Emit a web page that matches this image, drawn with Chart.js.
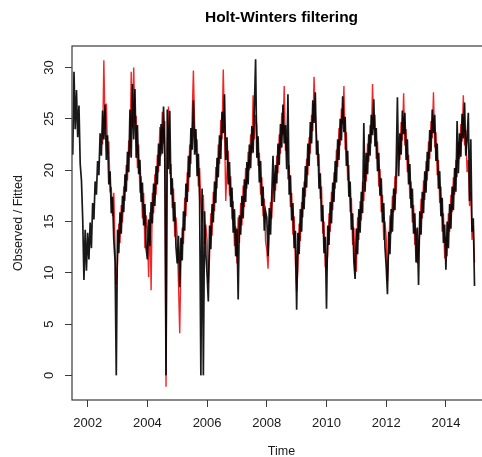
<!DOCTYPE html>
<html>
<head>
<meta charset="utf-8">
<script src="https://cdn.jsdelivr.net/npm/chart.js@4.4.1/dist/chart.umd.min.js"></script>
<style>
    html, body { margin: 0; padding: 0; background: #fff; overflow: hidden; }
    #wrap { width: 492px; height: 457px; }
</style>
</head>
<body>
<div id="wrap"><canvas id="hw_chart" width="492" height="457"></canvas></div>
<script type="text/javascript">
    // two readings per month (frequency 24), time as decimal year like an R ts
    var FREQ = 24;

    // observed (black) — 2001 starts in July
    var obs2001 = [21.5, 29.6, 24.0, 27.8, 23.2, 26.3, 20.6, 19.0, 15.3, 9.3, 14.2, 10.2];
    var obs2002 = [13.9, 11.3, 14.9, 12.4, 16.8, 15.2, 18.9, 17.6, 20.9, 19.5, 23.6, 21.4, 25.8, 23.0, 26.4, 21.0, 23.4, 18.6, 19.9, 15.8, 17.4, 13.2, 11.2, 0.0];
    var obs2003 = [14.2, 11.9, 15.9, 13.8, 17.5, 15.9, 19.6, 17.9, 21.8, 19.8, 25.9, 21.2, 28.4, 23.0, 27.9, 21.2, 24.4, 19.6, 21.0, 16.9, 18.8, 14.6, 16.7, 12.4];
    var obs2004 = [11.3, 15.2, 12.6, 16.9, 14.8, 18.7, 16.5, 20.4, 18.6, 22.6, 20.4, 24.5, 21.6, 26.2, 21.3, 0.0, 25.9, 20.1, 25.8, 17.6, 19.2, 15.0, 16.9, 12.5];
    var obs2005 = [10.9, 13.6, 8.6, 13.4, 11.2, 16.0, 14.1, 18.7, 16.9, 21.4, 19.3, 24.1, 22.0, 26.8, 21.5, 24.0, 19.4, 21.6, 17.0, 0.0, 18.2, 0.0, 16.0, 11.8];
    var obs2006 = [9.8, 7.2, 14.6, 12.3, 16.7, 14.9, 18.9, 16.8, 21.2, 19.3, 23.4, 21.1, 25.7, 23.6, 27.4, 21.0, 23.2, 18.6, 20.8, 16.4, 18.3, 13.9, 16.2, 11.6];
    var obs2007 = [14.3, 7.4, 15.6, 13.7, 17.5, 15.3, 19.1, 16.9, 20.8, 18.6, 22.5, 20.2, 24.3, 21.7, 26.0, 30.8, 21.2, 23.3, 18.8, 20.9, 16.5, 18.4, 14.1, 16.0];
    var obs2008 = [15.4, 11.6, 16.3, 13.7, 17.6, 21.4, 16.9, 20.5, 18.7, 22.6, 20.5, 24.5, 22.2, 26.4, 22.6, 24.4, 20.1, 27.4, 17.6, 19.5, 15.1, 16.8, 12.4, 14.1];
    var obs2009 = [6.4, 13.9, 11.8, 16.2, 14.0, 18.3, 16.2, 20.4, 18.3, 22.6, 20.4, 24.7, 22.6, 26.8, 24.6, 27.6, 21.5, 22.9, 18.2, 19.7, 15.0, 16.6, 11.9, 13.5];
    var obs2010 = [6.5, 14.6, 12.7, 16.9, 14.8, 18.8, 16.9, 20.9, 18.8, 23.0, 21.0, 25.0, 22.9, 27.2, 23.7, 25.2, 20.4, 21.9, 17.4, 18.9, 14.2, 15.8, 11.1, 9.4];
    var obs2011 = [14.3, 11.8, 16.2, 13.9, 17.9, 15.8, 24.6, 17.9, 21.7, 19.6, 23.5, 21.4, 25.4, 23.4, 26.9, 22.3, 24.1, 19.9, 21.7, 17.5, 19.2, 14.9, 16.8, 12.5];
    var obs2012 = [10.6, 7.9, 14.0, 11.8, 16.2, 14.0, 18.2, 16.1, 20.3, 27.1, 19.4, 23.6, 21.5, 25.8, 23.5, 25.6, 21.0, 23.0, 18.6, 20.6, 16.3, 18.2, 13.8, 15.8];
    var obs2013 = [11.0, 14.4, 8.8, 16.0, 13.7, 17.9, 15.8, 19.9, 17.8, 21.8, 19.9, 23.9, 21.8, 25.9, 23.6, 25.4, 20.9, 22.6, 18.2, 19.9, 15.5, 17.3, 12.9, 14.7];
    var obs2014 = [10.3, 15.0, 12.4, 16.7, 14.3, 18.4, 16.1, 20.2, 17.9, 24.8, 19.7, 23.6, 21.3, 25.5, 23.1, 26.6, 21.4, 23.0, 25.6, 17.0, 23.0, 14.0, 15.3, 8.7];

    // fitted (red) — starts one season later, July 2002
    var fit2002 = [22.5, 30.7, 24.0, 26.5, 21.5, 22.8, 18.0, 18.2, 15.5, 17.8, 12.6, 8.8];
    var fit2003 = [11.0, 14.8, 12.9, 16.6, 14.9, 18.4, 17.0, 20.5, 19.0, 22.9, 21.3, 29.6, 24.2, 30.0, 24.6, 25.3, 20.2, 22.5, 17.8, 19.4, 15.3, 17.8, 12.4, 15.6];
    var fit2004 = [14.2, 9.6, 15.9, 8.3, 17.8, 15.8, 19.6, 17.6, 21.5, 19.8, 24.2, 21.4, 25.7, 22.6, 24.8, -1.1, 22.0, 26.2, 19.6, 20.6, 16.3, 18.2, 13.5, 15.4];
    var fit2005 = [13.5, 9.0, 4.1, 11.3, 14.4, 12.8, 17.3, 15.5, 19.8, 17.9, 22.5, 20.6, 25.2, 29.7, 24.3, 21.8, 23.0, 18.4, 20.2, 16.8, 14.9, 17.6, 12.8, 14.7];
    var fit2006 = [13.2, 9.0, 11.6, 15.8, 13.6, 17.9, 16.0, 20.3, 18.2, 22.5, 20.6, 24.9, 23.0, 29.8, 24.4, 17.0, 20.0, 21.9, 17.5, 19.4, 15.2, 17.0, 12.6, 14.5];
    var fit2007 = [10.9, 15.4, 12.9, 16.8, 14.6, 18.5, 16.4, 20.2, 18.2, 21.8, 20.0, 23.5, 21.6, 27.3, 23.0, 25.4, 24.3, 20.4, 21.7, 17.6, 19.3, 15.5, 17.2, 13.1];
    var fit2008 = [12.2, 10.4, 14.2, 16.9, 15.3, 18.6, 19.3, 18.0, 21.4, 19.7, 23.5, 21.6, 25.6, 23.4, 28.2, 21.9, 23.2, 19.1, 20.5, 16.4, 17.8, 13.7, 15.5, 11.0];
    var fit2009 = [8.2, 10.3, 14.8, 13.1, 16.9, 15.4, 18.9, 17.4, 21.1, 19.5, 23.2, 21.6, 25.4, 23.8, 29.1, 25.3, 23.6, 20.4, 21.6, 17.2, 18.4, 13.8, 15.0, 10.6];
    var fit2010 = [10.4, 11.8, 15.8, 14.0, 17.9, 16.1, 19.8, 18.2, 22.0, 20.3, 24.1, 22.4, 26.0, 24.5, 28.2, 22.0, 23.7, 19.0, 20.5, 15.9, 17.3, 12.7, 14.4, 10.3];
    var fit2011 = [10.2, 15.4, 13.2, 17.0, 15.1, 18.9, 17.0, 20.6, 18.9, 22.6, 20.8, 24.4, 22.6, 28.4, 24.0, 25.4, 21.1, 22.8, 18.4, 20.1, 15.9, 17.6, 13.2, 15.0];
    var fit2012 = [13.4, 9.2, 12.0, 15.6, 13.8, 17.5, 15.9, 19.4, 17.7, 21.5, 22.3, 21.0, 24.7, 22.9, 27.5, 22.4, 24.0, 19.8, 21.5, 17.2, 18.9, 14.9, 16.6, 12.7];
    var fit2013 = [14.3, 10.9, 12.4, 13.9, 17.2, 15.3, 19.0, 17.1, 20.9, 19.0, 22.8, 21.1, 24.8, 23.1, 27.6, 22.2, 23.7, 19.5, 21.0, 16.8, 18.4, 14.0, 15.8, 11.4];
    var fit2014 = [13.5, 11.6, 15.8, 14.0, 17.6, 15.9, 19.3, 17.6, 21.0, 19.3, 22.7, 21.1, 24.5, 22.8, 27.3, 22.4, 23.9, 19.8, 21.0, 16.5, 17.9, 13.2, 14.6, 11.0];

    var xTicks = [2002, 2004, 2006, 2008, 2010, 2012, 2014];
    var yTicks = [0, 5, 10, 15, 20, 25, 30];

    function series(blocks) {
        // blocks: [year, first index within the year, values]
        var pts = [];
        blocks.forEach(function (b) {
            b[2].forEach(function (v, k) {
                pts.push({x: b[0] + (b[1] + k) / FREQ, y: v});
            });
        });
        return pts;
    }

    var observed = series([
        [2001, 12, obs2001], [2002, 0, obs2002], [2003, 0, obs2003], [2004, 0, obs2004],
        [2005, 0, obs2005], [2006, 0, obs2006], [2007, 0, obs2007], [2008, 0, obs2008],
        [2009, 0, obs2009], [2010, 0, obs2010], [2011, 0, obs2011], [2012, 0, obs2012],
        [2013, 0, obs2013], [2014, 0, obs2014]
    ]);
    var fitted = series([
        [2002, 12, fit2002], [2003, 0, fit2003], [2004, 0, fit2004], [2005, 0, fit2005],
        [2006, 0, fit2006], [2007, 0, fit2007], [2008, 0, fit2008], [2009, 0, fit2009],
        [2010, 0, fit2010], [2011, 0, fit2011], [2012, 0, fit2012], [2013, 0, fit2013],
        [2014, 0, fit2014]
    ]);

    var FONT = "'Liberation Sans', Arial, Helvetica, sans-serif";

    // R-like decorations: box, rotated y labels, axis titles
    var rStyle = {
        id: 'rStyle',
        afterDraw: function (chart) {
            var c = chart.ctx, a = chart.chartArea, y = chart.scales.y;
            c.save();
            c.strokeStyle = '#3a3a3a';
            c.lineWidth = 1.2;
            c.strokeRect(a.left, a.top, a.right - a.left, a.bottom - a.top);

            c.fillStyle = '#1a1a1a';
            c.font = '13px ' + FONT;
            c.textAlign = 'center';
            c.textBaseline = 'middle';
            yTicks.forEach(function (v) {
                c.save();
                c.translate(49, y.getPixelForValue(v));
                c.rotate(-Math.PI / 2);
                c.fillText(String(v), 0, 0);
                c.restore();
            });

            c.font = '12.5px ' + FONT;
            c.save();
            c.translate(19, (a.top + a.bottom) / 2);
            c.rotate(-Math.PI / 2);
            c.fillText('Observed / Fitted', 0, 0);
            c.restore();
            c.fillText('Time', (a.left + a.right) / 2, 452);
            c.restore();
        }
    };

    var ctx = document.getElementById('hw_chart').getContext('2d');
    var chart = new Chart(ctx, {
        type: 'line',
        data: {
            datasets: [{
                label: 'Observed',
                data: observed,
                borderColor: 'rgba(0, 0, 0, 0.9)',
                borderWidth: 1.7,
                pointRadius: 0,
                tension: 0
            }, {
                label: 'Fitted',
                data: fitted,
                borderColor: 'rgba(240, 0, 0, 0.85)',
                borderWidth: 1.4,
                pointRadius: 0,
                tension: 0
            }]
        },
        options: {
            responsive: false,
            animation: false,
            layout: {padding: {left: 0, right: 1, top: 0, bottom: 0}},
            plugins: {
                legend: {display: false},
                tooltip: {enabled: false},
                title: {
                    display: true,
                    text: 'Holt-Winters filtering',
                    fullSize: false,
                    color: '#000',
                    font: {family: FONT, size: 15.5, weight: 'bold'},
                    padding: {top: 8, bottom: 19.4}
                }
            },
            scales: {
                x: {
                    type: 'linear',
                    min: 2001.475,
                    max: 2015.51,
                    afterBuildTicks: function (s) { s.ticks = xTicks.map(function (v) { return {value: v}; }); },
                    afterFit: function (s) { s.height = 57; },
                    border: {display: false},
                    grid: {drawOnChartArea: false, drawTicks: true, tickLength: 7, color: '#3a3a3a', lineWidth: 1},
                    ticks: {
                        autoSkip: false, maxRotation: 0, padding: 9,
                        color: '#1a1a1a',
                        font: {family: FONT, size: 13},
                        callback: function (v) { return String(v); }
                    }
                },
                y: {
                    min: -2.4,
                    max: 32.1,
                    afterBuildTicks: function (s) { s.ticks = yTicks.map(function (v) { return {value: v}; }); },
                    afterFit: function (s) { s.width = 72; },
                    border: {display: false},
                    grid: {drawOnChartArea: false, drawTicks: true, tickLength: 7, color: '#3a3a3a', lineWidth: 1},
                    ticks: {display: false}
                }
            }
        },
        plugins: [rStyle]
    });
</script>
</body>
</html>
